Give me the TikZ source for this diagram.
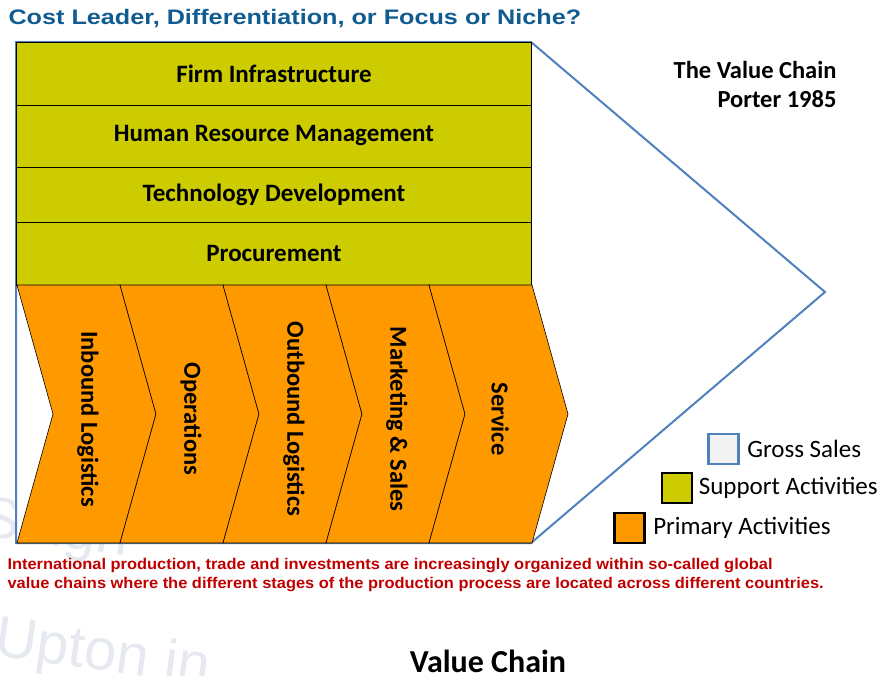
\documentclass[tikz,border=0pt]{standalone}
\usepackage{fontspec}
\setmainfont{Carlito}
\newfontfamily\arialfont{Liberation Sans}
\newfontfamily\titlefont[FakeStretch=1.2]{Liberation Sans}
\newfontfamily\notefont[FakeStretch=1.06]{Liberation Sans}
\definecolor{supportcol}{RGB}{204,204,0}
\definecolor{primarycol}{RGB}{255,153,0}
\definecolor{grossblue}{RGB}{79,129,189}
\definecolor{titleblue}{RGB}{16,92,145}
\definecolor{notered}{RGB}{192,0,0}
\definecolor{wmark}{RGB}{230,234,240}

\begin{document}
\begin{tikzpicture}[x=1pt,y=-1pt,supp/.style={draw=black,fill=supportcol,line width=0.8pt},prim/.style={draw=black,fill=primarycol,line width=0.6pt},supplab/.style={font=\fontsize{25}{28}\selectfont\bfseries},primlab/.style={rotate=-90,font=\fontsize{24.5}{28}\selectfont\bfseries},legbox/.style={minimum size=30pt,inner sep=0pt,line width=2.5pt},leglab/.style={anchor=west,font=\fontsize{25}{28}\selectfont},wmk/.style={anchor=west,rotate=-8,wmark,font=\arialfont\fontsize{58}{60}\selectfont},note/.style={anchor=west,notered,font=\notefont\fontsize{15.5}{17}\selectfont\bfseries}]
\def\chw{103};
\def\tip{36};
\def\ytop{285};
\def\ymid{414};
\def\ybot{543};

\useasboundingbox (0,0) rectangle (885,675);

% watermark
\begin{scope}
\clip (0,0) rectangle (885,675);
\node[wmk] (wm1) at (-22,520) {Singh};
\node[wmk] (wm2) at (-8,640) {Upton in};
\end{scope}

\node[anchor=west,titleblue,font=\titlefont\fontsize{21}{24}\selectfont\bfseries] (title) at (5,19) {Cost Leader, Differentiation, or Focus or Niche?};

% gross sales outline
\draw[grossblue,line width=2pt,fill=white] (16,42) -- (531,42) -- (825,292) -- (531,\ybot) -- (16,\ybot) -- cycle;

% support activities
\foreach \ya/\yb/\txt/\nm in {42/105/Firm Infrastructure/infra,105/167/Human Resource Management/hrm,167/222/Technology Development/tech,222/285/Procurement/proc}{
  \draw[supp] (16,\ya) rectangle (531,\yb);
  \node[supplab] (\nm) at (274,{(\ya+\yb)/2}) {\txt};
}

% primary activities
\foreach \i/\txt/\nm in {0/Inbound Logistics/inbound,1/Operations/ops,2/Outbound Logistics/outbound,3/Marketing \& Sales/marketing,4/Service/service}{
  \pgfmathsetmacro\xl{17+\chw*\i}
  \draw[prim] (\xl,\ytop) -- (\xl+\chw,\ytop) -- (\xl+\chw+\tip,\ymid) -- (\xl+\chw,\ybot) -- (\xl,\ybot) -- (\xl+\tip,\ymid) -- cycle;
  \node[primlab] (\nm) at (\xl+71,419) {\txt};
}

\node[anchor=east,font=\fontsize{24.5}{28}\selectfont\bfseries] (vc) at (840,70) {The Value Chain};
\node[anchor=east,font=\fontsize{24.5}{28}\selectfont\bfseries] (porter) at (840,99) {Porter 1985};

% legend
\node[legbox,draw=grossblue,fill=gray!10] (lgross) at (723.5,449) {};
\node[leglab] (tgross) at (lgross.east) [xshift=4pt] {Gross Sales};
\node[legbox,draw=black,fill=supportcol] (lsupp) at (677,488) {};
\node[leglab] (tsupp) at (lsupp.east) [xshift=2pt] {Support Activities};
\node[legbox,draw=black,fill=primarycol] (lprim) at (629.5,528) {};
\node[leglab] (tprim) at (lprim.east) [xshift=4pt] {Primary Activities};

\node[note] (note1) at (4,566) {International production, trade and investments are increasingly organized within so-called global};
\node[note] (note2) at (4,585) {value chains where the different stages of the production process are located across different countries.};

\node[font=\fontsize{32}{36}\selectfont\bfseries] (caption) at (488,661) {Value Chain};
\end{tikzpicture}
\end{document}
